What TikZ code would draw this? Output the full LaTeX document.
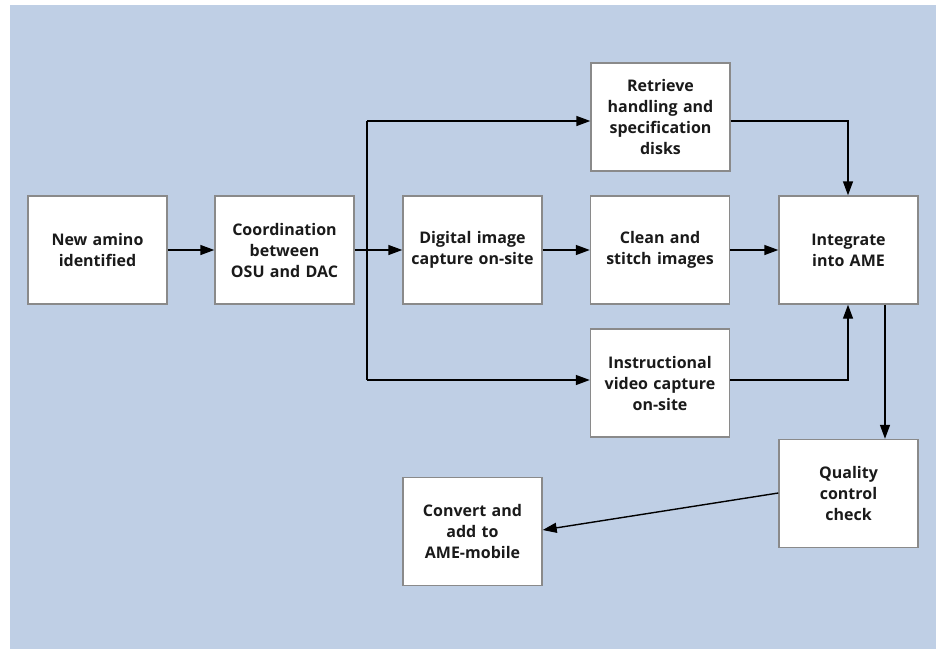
\documentclass[tikz,border=0pt]{standalone}
\usepackage{fontspec}
\setmainfont{Open Sans}
\usetikzlibrary{arrows.meta}
\definecolor{bgblue}{HTML}{BFCFE5}
\definecolor{boxgray}{HTML}{8A8A8A}
\definecolor{txt}{HTML}{1A1A1A}
\begin{document}
\begin{tikzpicture}[x=1pt,y=-1pt,
  box/.style={draw=boxgray,line width=1.4pt,fill=white,minimum width=139pt,minimum height=108pt,
    inner sep=0pt,align=center,font=\fontsize{16}{21}\selectfont\bfseries,text=txt,text width=134pt},
  conn/.style={line width=1.4pt,-{Triangle[length=14pt,width=10pt]}},
  plain/.style={line width=1.4pt}]
\fill[bgblue] (10,5) rectangle (936,649);
\useasboundingbox (0,0) rectangle (940,649);
\node[box] (new) at (97.5,250) {New amino\\identified};
\node[box] (coord) at (284.5,250) {Coordination\\between\\OSU and DAC};
\node[box] (digital) at (472.5,250) {Digital image\\capture on-site};
\node[box] (clean) at (660,250) {Clean and\\stitch images};
\node[box] (integ) at (848.5,250) {Integrate\\into AME};
\node[box] (retr) at (660.5,117) {Retrieve\\handling and\\specification\\disks};
\node[box] (instr) at (660,383) {Instructional\\video capture\\on-site};
\node[box] (qual) at (848.5,493.5) {Quality\\control\\check};
\node[box] (conv) at (472.5,531.5) {Convert and\\add to\\AME-mobile};
\coordinate (jt) at (367,121);
\coordinate (jb) at (367,380);
\draw[conn] (new) -- (coord);
\draw[conn] (coord) -- (digital);
\draw[plain] (jt) -- (jb);
\draw[conn] (jt) -- (jt -| retr.west);
\draw[conn] (jb) -- (jb -| instr.west);
\draw[conn] (digital) -- (clean);
\draw[conn] (clean) -- (integ);
\draw[conn] (jt -| retr.east) -- (848,121) -- (integ.north -| 848,0);
\draw[conn] (jb -| instr.east) -- (848,380) -- (integ.south -| 848,0);
\draw[conn] (integ.south -| 885,0) -- (qual.north -| 885,0);
\draw[conn] (qual.west |- 0,493) -- (conv.east |- 0,530);
\end{tikzpicture}
\end{document}
